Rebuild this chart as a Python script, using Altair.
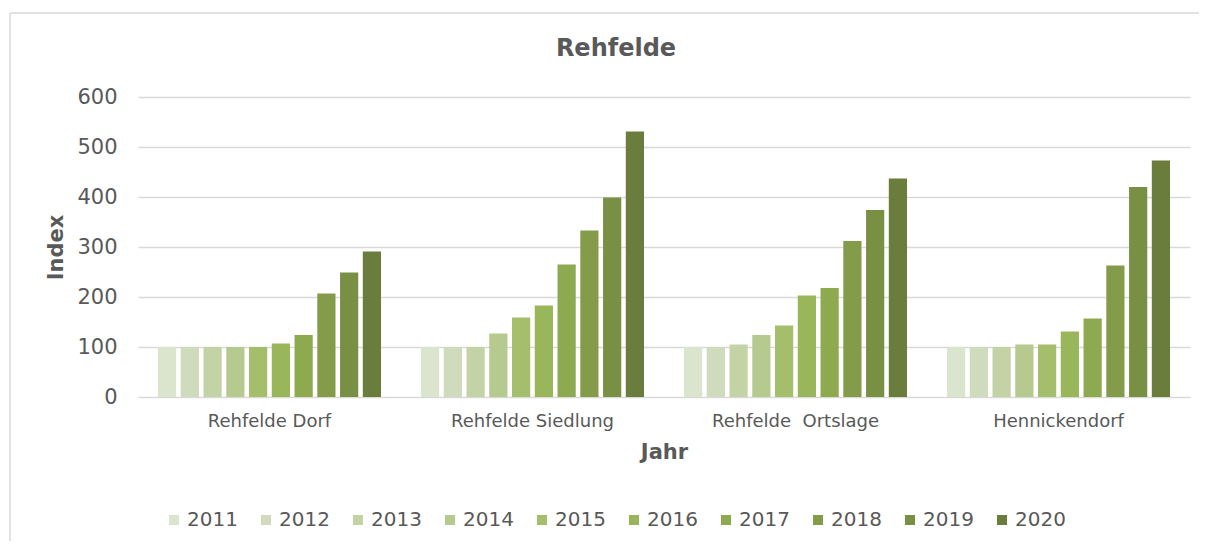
import altair as alt
import pandas as pd

groups = ["Rehfelde Dorf", "Rehfelde Siedlung", "Rehfelde\u00a0 Ortslage", "Hennickendorf"]
years = ["2011", "2012", "2013", "2014", "2015", "2016", "2017", "2018", "2019", "2020"]
dorf = [100, 100, 100, 100, 100, 107, 124, 207, 249, 291]
siedlung = [100, 100, 100, 127, 159, 183, 265, 333, 399, 531]
ortslage = [100, 100, 105, 124, 143, 203, 218, 312, 374, 437]
hennickendorf = [100, 100, 100, 105, 105, 131, 157, 263, 420, 473]
colors = ["#dbe4cc", "#cfdbbc", "#c3d3a6", "#b6ca90", "#a4be6b",
          "#9ab65a", "#8eaa50", "#849c4a", "#798f44", "#6b7d3c"]

series = [dorf, siedlung, ortslage, hennickendorf]
rows = []
for g, vals in zip(groups, series):
    for y, v in zip(years, vals):
        rows.append({"Gruppe": g, "Jahr": y, "Index": v})
df = pd.DataFrame(rows)

TXT = "#595959"
FONT = "DejaVu Sans"

bars = alt.Chart(df).mark_bar().encode(
    x=alt.X("Gruppe:N", sort=groups,
            scale=alt.Scale(paddingInner=0.152, paddingOuter=0.076),
            axis=alt.Axis(title="Jahr", labelAngle=0, labelFontSize=18,
                          labelColor=TXT, labelFont=FONT, labelPadding=15,
                          titleFont=FONT, titleFontSize=21, titleColor=TXT,
                          titleFontWeight="bold", titlePadding=11,
                          ticks=False, domain=False, grid=False)),
    xOffset=alt.XOffset("Jahr:N", sort=years,
                        scale=alt.Scale(paddingInner=0.2, paddingOuter=0)),
    y=alt.Y("Index:Q", scale=alt.Scale(domain=[0, 600], nice=False),
            axis=alt.Axis(title="Index", values=[0, 100, 200, 300, 400, 500, 600],
                          labelFontSize=21, labelColor=TXT, labelFont=FONT,
                          labelPadding=21, titleFont=FONT, titleFontSize=21,
                          titleColor=TXT, titleFontWeight="bold", titlePadding=10,
                          ticks=False, domain=False, gridColor="#d9d9d9",
                          gridWidth=1.5)),
    color=alt.Color("Jahr:N", sort=years,
                    scale=alt.Scale(domain=years, range=colors),
                    legend=alt.Legend(title=None, orient="none", direction="horizontal",
                                      legendX=26, legendY=413, columns=10,
                                      symbolType="square", symbolSize=100,
                                      symbolStrokeWidth=0, labelFontSize=20,
                                      labelFont=FONT, labelColor=TXT,
                                      labelOffset=3, columnPadding=18)),
)

border_df = pd.DataFrame({"k": [0]})
left_line = alt.Chart(border_df).mark_rule(color="#d9d9d9", strokeWidth=1.5).encode(
    x=alt.value(-128), y=alt.value(-84), y2=alt.value(444))
top_line = alt.Chart(border_df).mark_rule(color="#d9d9d9", strokeWidth=1.5).encode(
    x=alt.value(-128), x2=alt.value(1061), y=alt.value(-84))

chart = alt.layer(left_line, top_line, bars).properties(
    width=1052, height=300,
    padding={"left": 1, "top": 4, "right": 0, "bottom": 0},
    title=alt.TitleParams(text="Rehfelde", fontSize=24, font=FONT, fontWeight="bold",
                          color=TXT, anchor="middle", frame="group", dx=-48, dy=53),
).configure_view(strokeWidth=0)

chart.save("out.html", embed_options={"renderer": "svg", "actions": False})
